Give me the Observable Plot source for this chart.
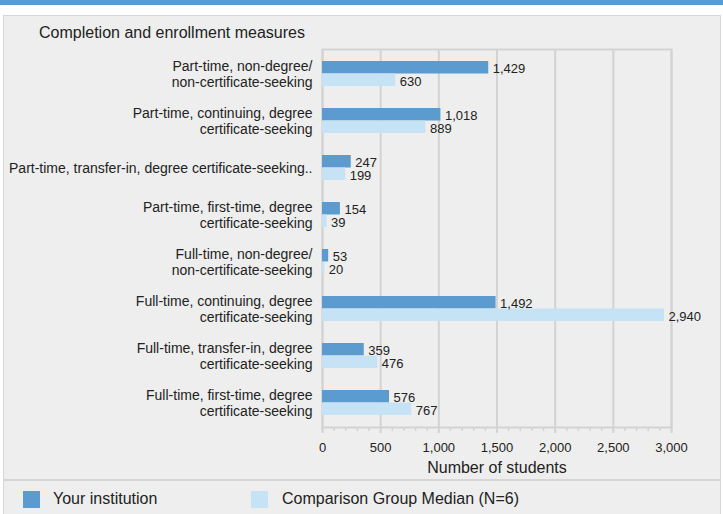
<!DOCTYPE html>
<html><head><meta charset="utf-8">
<script src="https://cdn.jsdelivr.net/npm/d3@7"></script>
<script src="https://cdn.jsdelivr.net/npm/@observablehq/plot@0.6"></script>
<style>
html,body{margin:0;padding:0;background:#fff;}
body{font-family:"Liberation Sans",Arial,sans-serif;width:723px;height:514px;overflow:hidden;position:relative;color:#222;}
#banner{position:absolute;left:0;top:0;width:723px;height:5px;background:#5b9bd0;}
#panel{position:absolute;left:3px;top:15px;width:718px;height:520px;background:#eeeeee;border:1px solid #d6d6d6;box-sizing:border-box;}
#title{position:absolute;left:39px;top:24px;font-size:16px;line-height:18px;color:#222;white-space:nowrap;}
#chart{position:absolute;left:0;top:40px;}
#sep{position:absolute;left:3px;top:479px;width:718px;height:2px;background:#d6d6d6;}
.sw{position:absolute;top:491px;width:17px;height:17px;}
.lt{position:absolute;top:490px;font-size:16px;line-height:18px;color:#222;white-space:nowrap;}
</style></head>
<body>
<div id="banner"></div>
<div id="panel"></div>
<div id="title">Completion and enrollment measures</div>
<div id="chart"></div>
<div id="sep"></div>
<div class="sw" id="sw1" style="left:23px;"></div>
<div class="lt" id="lt1" style="left:53px;"></div>
<div class="sw" id="sw2" style="left:251px;"></div>
<div class="lt" id="lt2" style="left:282px;"></div>
<script>
const categories = [
  "Part-time, non-degree/\nnon-certificate-seeking",
  "Part-time, continuing, degree\ncertificate-seeking",
  "Part-time, transfer-in, degree certificate-seeking..",
  "Part-time, first-time, degree\ncertificate-seeking",
  "Full-time, non-degree/\nnon-certificate-seeking",
  "Full-time, continuing, degree\ncertificate-seeking",
  "Full-time, transfer-in, degree\ncertificate-seeking",
  "Full-time, first-time, degree\ncertificate-seeking"
];
const institution = [1429, 1018, 247, 154, 53, 1492, 359, 576];
const comparison = [630, 889, 199, 39, 20, 2940, 476, 767];
const seriesNames = ["Your institution", "Comparison Group Median (N=6)"];
const seriesColors = ["#5b9bd0", "#c6e3f6"];
const xTicks = [0, 500, 1000, 1500, 2000, 2500, 3000];
const xMinorTicks = d3.range(0, 3001, 100);
const xLabel = "Number of students";

const rows = categories.map((c, i) => ({category: c, institution: institution[i], comparison: comparison[i]}));
const fmt = d3.format(",");

const chart = Plot.plot({
  width: 723,
  height: 440,
  marginLeft: 322,
  marginRight: 52,
  marginTop: 9,
  marginBottom: 53,
  style: {background: "transparent", fontFamily: "'Liberation Sans', Arial, sans-serif", fontSize: "13px", color: "#222"},
  x: {domain: [0, 3000], label: null},
  y: {domain: categories, paddingInner: 0.47, paddingOuter: 0.235, label: null},
  marks: [
    Plot.gridX(xTicks, {stroke: "#d3d3d3", strokeOpacity: 1, strokeWidth: 2}),
    Plot.frame({stroke: "#d3d3d3", strokeWidth: 2}),
    Plot.axisX(xMinorTicks, {tickSize: 4, tickFormat: () => "", stroke: "#d3d3d3", strokeWidth: 1.5, label: null}),
    Plot.axisX(xTicks, {tickSize: 6, tickPadding: 9, tickFormat: fmt, stroke: "#d3d3d3", strokeWidth: 2, fill: "#222", fontSize: 13, label: null}),
    Plot.axisY({tickSize: 0, tickPadding: 10, fontSize: 14, lineHeight: 1.15, fill: "#222", label: null}),
    Plot.barX(rows, {x: "institution", y: "category", fill: seriesColors[0], insetBottom: 12.5}),
    Plot.barX(rows, {x: "comparison", y: "category", fill: seriesColors[1], insetTop: 12.5}),
    Plot.text(rows, {x: "institution", y: "category", text: d => fmt(d.institution), dx: 4, dy: -5.5, textAnchor: "start", fill: "#222", fontSize: 13}),
    Plot.text(rows, {x: "comparison", y: "category", text: d => fmt(d.comparison), dx: 4, dy: 7.5, textAnchor: "start", fill: "#222", fontSize: 13}),
    Plot.text([xLabel], {frameAnchor: "bottom", text: d => d, dy: 45, fontSize: 16, fill: "#222"})
  ]
});
document.getElementById("chart").appendChild(chart);
document.getElementById("sw1").style.background = seriesColors[0];
document.getElementById("sw2").style.background = seriesColors[1];
document.getElementById("lt1").textContent = seriesNames[0];
document.getElementById("lt2").textContent = seriesNames[1];
</script>
</body></html>
